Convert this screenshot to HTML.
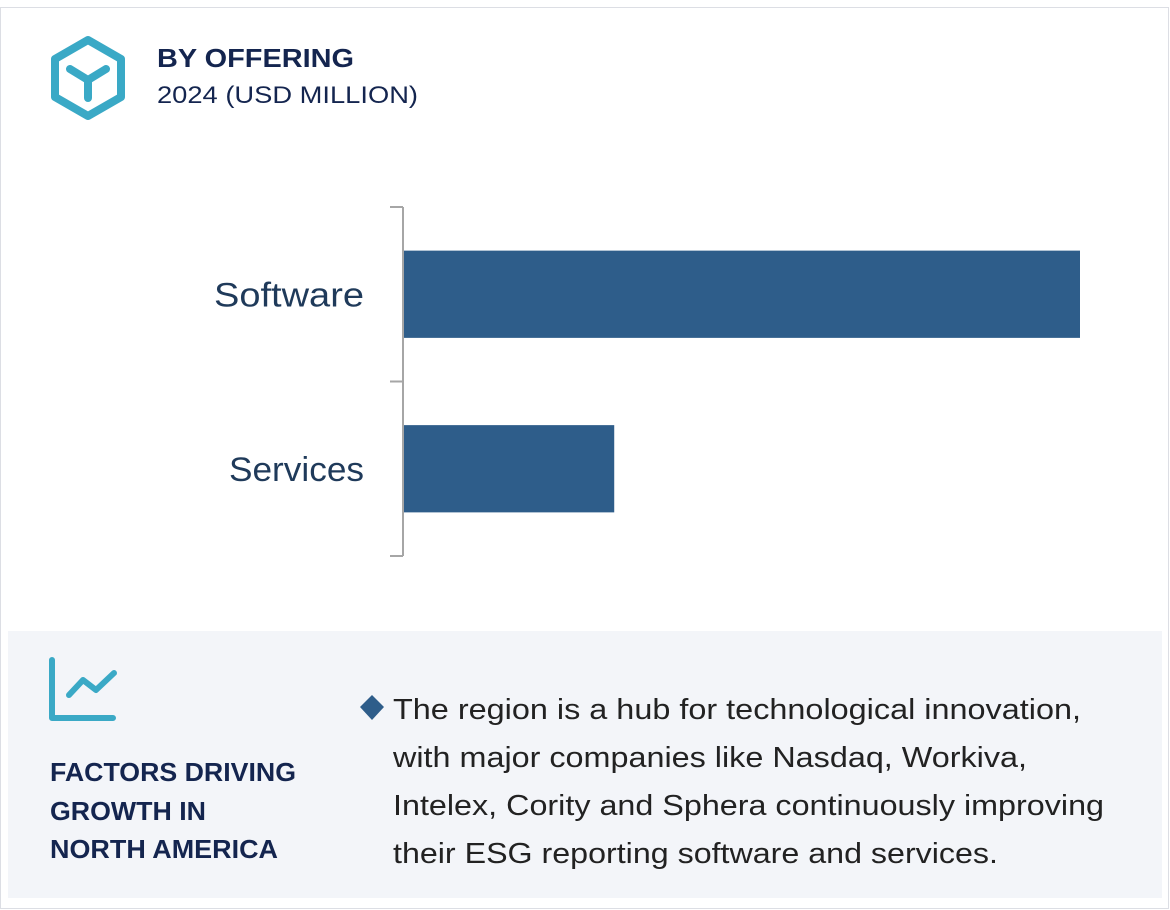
<!DOCTYPE html>
<html><head><meta charset="utf-8"><style>
html,body{margin:0;padding:0;background:#fff;}
svg{display:block;font-family:"Liberation Sans",sans-serif;}
</style></head><body>
<svg width="1170" height="910" viewBox="0 0 1170 910">
<rect x="0.5" y="7.5" width="1168" height="901" fill="#fff" stroke="#dcdee4"/>
<g fill="none" stroke="#3aa9c6" stroke-width="8" stroke-linecap="round" stroke-linejoin="round">
<polygon points="88,40 121,59 121,97 88,116 55,97 55,59"/>
<path d="M70,69 L88,80 L106,69 M88,80 L88,98"/>
</g>
<text x="157" y="67" font-size="26" font-weight="bold" fill="#14254f" textLength="197" lengthAdjust="spacingAndGlyphs">BY  OFFERING</text>
<text x="157" y="103" font-size="24" fill="#14254f" textLength="261" lengthAdjust="spacingAndGlyphs">2024  (USD MILLION)</text>
<g id="chart"></g>
<rect x="8" y="631" width="1154" height="267" fill="#f3f5f9"/>
<g fill="none" stroke="#3aa9c6" stroke-width="6" stroke-linecap="round" stroke-linejoin="round">
<path d="M52,660 L52,718 L113,718"/>
<path d="M69,695 L83,680 L96,690 L114,673"/>
</g>
<g font-size="26" font-weight="bold" fill="#14254f">
<text x="50" y="781" textLength="246" lengthAdjust="spacingAndGlyphs">FACTORS DRIVING</text>
<text x="50" y="820" textLength="156" lengthAdjust="spacingAndGlyphs">GROWTH IN</text>
<text x="50" y="858" textLength="228" lengthAdjust="spacingAndGlyphs">NORTH AMERICA</text>
</g>
<polygon points="372,695 384,707 372,720 360,707" fill="#2e5d8a"/>
<g font-size="29" fill="#222">
<text x="393" y="719" textLength="688" lengthAdjust="spacingAndGlyphs">The region is a hub for technological innovation,</text>
<text x="393" y="767" textLength="634" lengthAdjust="spacingAndGlyphs">with major companies like Nasdaq, Workiva,</text>
<text x="393" y="815" textLength="711" lengthAdjust="spacingAndGlyphs">Intelex, Cority and Sphera continuously improving</text>
<text x="393" y="863" textLength="605" lengthAdjust="spacingAndGlyphs">their ESG reporting software and  services.</text>
</g>
</svg>
<script>
const categories = ["Software", "Services"];
const values = [100, 31.2];
const labelWidths = [150, 135];
(function(){
  const g = document.getElementById('chart');
  const NS = 'http://www.w3.org/2000/svg';
  const x0 = 403, x1 = 1080, yTop = 207, yBot = 556;
  const maxV = Math.max(...values);
  const xs = v => x0 + (v / maxV) * (x1 - x0);
  const band = (yBot - yTop) / categories.length;
  const barH = band * 0.5;
  const ax = document.createElementNS(NS, 'path');
  let d = `M${x0},${yTop} L${x0},${yBot}`;
  for (let i = 0; i <= categories.length; i++) { const y = yTop + i * band; d += ` M${x0 - 13},${y} L${x0},${y}`; }
  ax.setAttribute('d', d); ax.setAttribute('stroke', '#a6a6a6'); ax.setAttribute('stroke-width', '2'); ax.setAttribute('fill', 'none');
  
  
  g.appendChild(ax);
  categories.forEach((c, i) => {
    const cy = yTop + band * (i + 0.5);
    const r = document.createElementNS(NS, 'rect');
    r.setAttribute('x', x0 + 1); r.setAttribute('y', cy - barH / 2);
    r.setAttribute('width', xs(values[i]) - x0 - 1); r.setAttribute('height', barH);
    r.setAttribute('fill', '#2e5d8a');
    
    
    g.appendChild(r);
    const t = document.createElementNS(NS, 'text');
    t.setAttribute('x', 364); t.setAttribute('y', cy + 12);
    t.setAttribute('text-anchor', 'end'); t.setAttribute('font-size', '34'); t.setAttribute('fill', '#1f3a5a');
    t.setAttribute('textLength', labelWidths[i]); t.setAttribute('lengthAdjust', 'spacingAndGlyphs');
    t.textContent = c;
    
    
    g.appendChild(t);
  });
})();
</script>
</body></html>
